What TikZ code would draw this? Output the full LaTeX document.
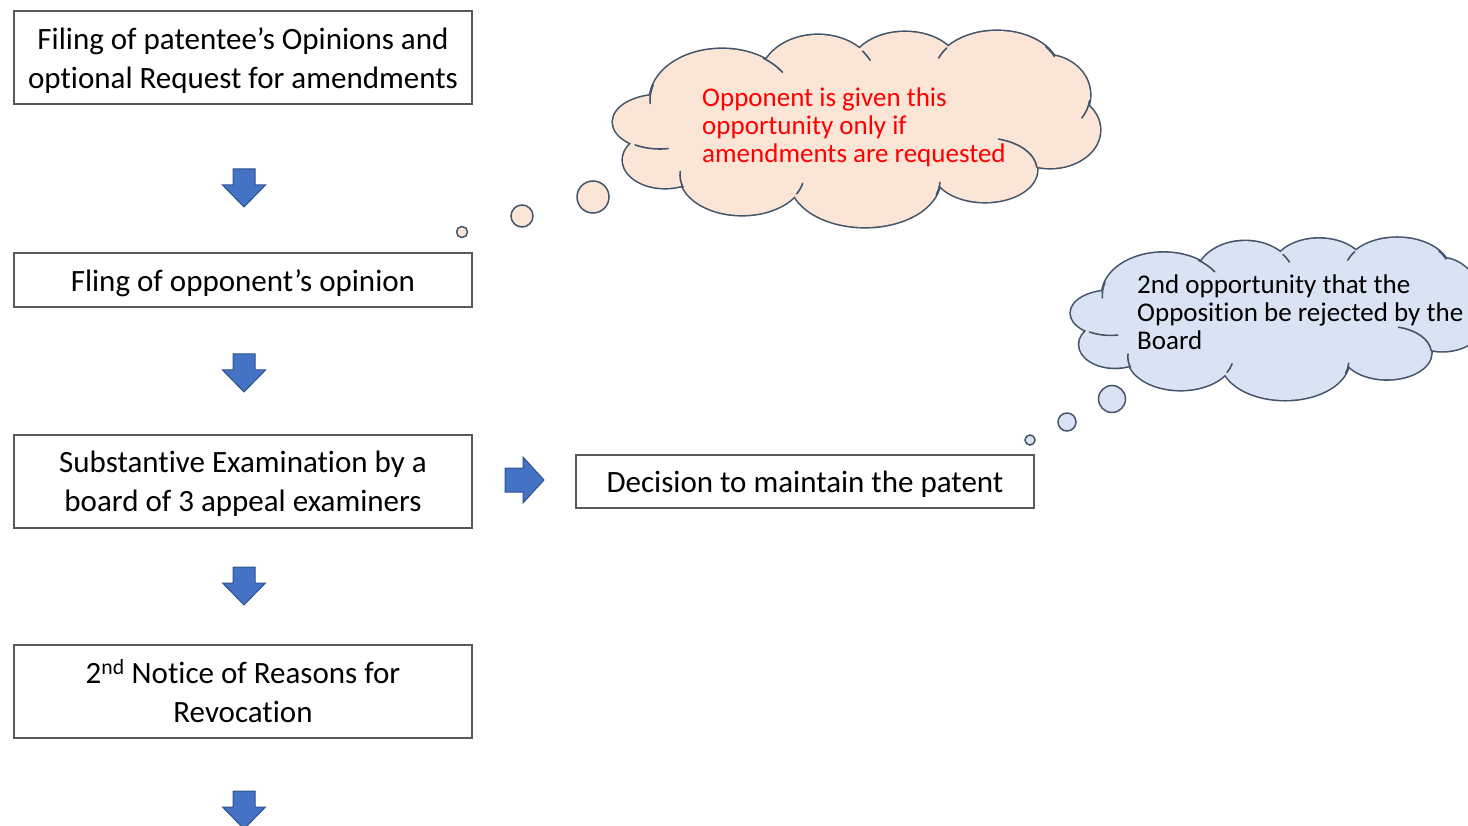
\documentclass[tikz,border=0pt]{standalone}
\usepackage{fontspec}
\setmainfont{Carlito}[Ligatures=NoCommon]
\definecolor{boxline}{HTML}{595959}
\definecolor{arrowfill}{HTML}{4472C4}
\definecolor{arrowline}{HTML}{2F528F}
\definecolor{peach}{HTML}{FBE5D6}
\definecolor{paleblue}{HTML}{DAE3F3}
\definecolor{cloudline}{HTML}{44546A}
\tikzset{
  stepbox/.style={draw=boxline, line width=1.3pt, fill=white, minimum width=458pt,
    inner sep=0pt},
  steptext/.style={align=center, font=\fontsize{31}{39}\selectfont, inner sep=0pt},
  blockarrow/.style={fill=arrowfill, draw=arrowline, line width=1pt, line join=miter},
  cloudrim/.style={draw=cloudline, line width=3.2pt},
  cloudhook/.style={draw=cloudline, line width=1.6pt, line cap=round},
  bubble/.style={circle, draw=cloudline, line width=1.5pt, inner sep=0pt},
  cloudtext/.style={align=left, anchor=north west, inner sep=0pt,
    font=\fontsize{27}{28}\selectfont}
}
% block arrow pointing down, top centre at (#1,#2)
\newcommand{\downarrowat}[2]{%
  \draw[blockarrow] (#1-11,#2) -- (#1+11,#2) -- (#1+11,#2+16) -- (#1+21.5,#2+16)
    -- (#1,#2+38) -- (#1-21.5,#2+16) -- (#1-11,#2+16) -- cycle;}
% the puffs of a cloud, as overlapping ellipses
\newcommand{\cloudlobes}{%
  (722,100) ellipse [x radius=72, y radius=51]
  (818,80) ellipse [x radius=58, y radius=45]
  (905,70) ellipse [x radius=55, y radius=38]
  (997,72) ellipse [x radius=62, y radius=41]
  (1045,95) ellipse [x radius=45, y radius=40]
  (1050,130) ellipse [x radius=50, y radius=38]
  (985,170) ellipse [x radius=52, y radius=32]
  (865,180) ellipse [x radius=75, y radius=47]
  (742,175) ellipse [x radius=62, y radius=40]
  (665,160) ellipse [x radius=42, y radius=28]
  (660,122) ellipse [x radius=47, y radius=27]}
\newcommand{\cloudcore}{(722,100) -- (818,80) -- (905,70) -- (997,72) -- (1045,95)
  -- (1050,130) -- (985,170) -- (865,180) -- (742,175) -- (665,160) -- (660,122) -- cycle}
% inner stroke: part of an ellipse (centre, radii, from angle, to angle)
\newcommand{\hookarc}[5]{\draw[cloudhook] (#1) ++(#4:#2 and #3)
  arc[start angle=#4, end angle=#5, x radius=#2, y radius=#3];}
% a whole cloud: outlined union of the puffs, then the inner strokes
\newcommand{\drawcloud}[1]{%
  \path[cloudrim, fill=#1] \cloudlobes;
  \path[fill=#1] \cloudlobes;
  \path[fill=#1] \cloudcore;
  \hookarc{722,100}{72}{51}{197}{176}
  \hookarc{722,100}{72}{51}{-55}{-33}
  \hookarc{818,80}{58}{45}{-40}{-26}
  \hookarc{997,72}{62}{41}{-144}{-160}
  \hookarc{997,72}{62}{41}{-38}{-22}
  \hookarc{1045,95}{45}{40}{8}{35}
  \hookarc{985,170}{52}{32}{-75}{-5}
  \hookarc{865,180}{75}{47}{18}{3}
  \hookarc{742,175}{62}{40}{28}{12}
  \hookarc{742,175}{62}{40}{162}{185}
  \hookarc{660,122}{47}{27}{122}{80}}
\begin{document}
\begin{tikzpicture}[x=1pt,y=-1pt]
\useasboundingbox (0,0) rectangle (1468,826);
\begin{scope}
\clip (0,0) rectangle (1468,826);

% procedure steps
\node[stepbox, minimum height=93pt] (filing) at (243,57.5) {};
\node[steptext] (filingtext) at ([yshift=-3pt]filing.center)
  {Filing of patentee’s Opinions and\\optional Request for amendments};
\node[stepbox, minimum height=54pt] (opinion) at (243,280) {};
\node[steptext] (opiniontext) at ([yshift=-3pt]opinion.center)
  {Fling of opponent’s opinion};
\node[stepbox, minimum height=93pt] (exam) at (243,481.5) {};
\node[steptext] (examtext) at ([yshift=-2.5pt]exam.center)
  {Substantive Examination by a\\board of 3 appeal examiners};
\node[stepbox, minimum height=93pt] (notice) at (243,691.5) {};
\node[steptext] (noticetext) at (notice.center)
  {2\textsuperscript{nd} Notice of Reasons for\\Revocation};
\node[stepbox, minimum height=53pt] (decision) at (805,481.5) {};
\node[steptext] (decisiontext) at ([yshift=-3pt]decision.center)
  {Decision to maintain the patent};

% flow arrows
\downarrowat{244}{169}
\downarrowat{244}{354}
\downarrowat{244}{567}
\downarrowat{244}{791}
\draw[blockarrow] (505,468) -- (523,468) -- (523,457) -- (544,480) -- (523,503)
  -- (523,492) -- (505,492) -- cycle;

% thought cloud about amendments
\drawcloud{peach}
\node[cloudtext, text=red] (peachtext) at (702,87.5)
  {Opponent is given this\\opportunity only if\\amendments are requested};
\node[bubble, fill=peach, minimum size=32pt] (pb1) at (593,197) {};
\node[bubble, fill=peach, minimum size=22pt] (pb2) at (522,216) {};
\node[bubble, fill=peach, minimum size=11pt] (pb3) at (462,232) {};

% thought cloud about rejection (same cloud, moved and scaled)
\begin{scope}[shift={(1070,237)}, xscale=0.85, yscale=0.827, shift={(-612,-30)}]
  \drawcloud{paleblue}
\end{scope}
\node[cloudtext, text=black] (bluetext) at (1137,275)
  {2nd opportunity that the\\Opposition be rejected by the\\Board};
\node[bubble, fill=paleblue, minimum size=27pt] (bb1) at (1112,399) {};
\node[bubble, fill=paleblue, minimum size=18pt] (bb2) at (1067,422) {};
\node[bubble, fill=paleblue, minimum size=10pt] (bb3) at (1030,440) {};
\end{scope}
\end{tikzpicture}
\end{document}
